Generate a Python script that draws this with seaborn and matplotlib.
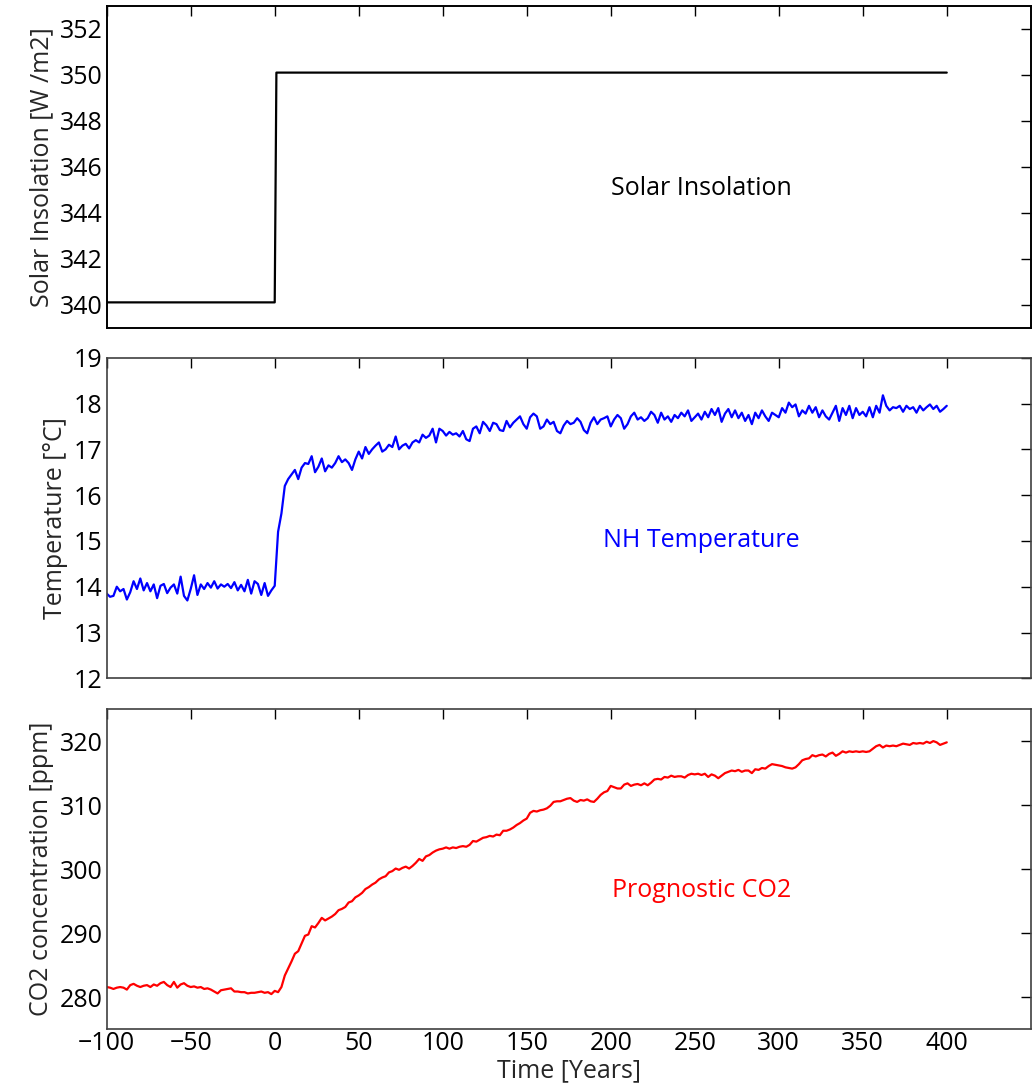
import numpy as np
import pandas as pd
import matplotlib
matplotlib.use("Agg")
import matplotlib.pyplot as plt
import seaborn as sns

# ---- data -------------------------------------------------------------
# Solar forcing: step change at year 0
solar_years = [-100, 0, 1, 400]
solar_values = [340.1, 340.1, 350.1, 350.1]

# Model output sampled every 2 years
years_pre = np.arange(-100, 1, 2)     # -100 ... 0
years_post = np.arange(2, 401, 2)     # 2 ... 400

temp_pre = [13.85, 13.78, 13.80, 14.00, 13.90, 13.95, 13.72, 13.88, 14.12, 13.95,
            14.18, 13.92, 14.08, 13.90, 14.05, 13.75, 14.02, 14.06, 13.86, 13.98,
            14.05, 13.85, 14.22, 13.80, 13.70, 13.95, 14.25, 13.82, 14.05, 13.95,
            14.08, 13.98, 14.12, 13.96, 14.05, 14.00, 14.06, 13.97, 14.10, 13.92,
            14.04, 13.90, 14.15, 13.85, 14.12, 14.06, 13.82, 14.08, 13.80, 13.92,
            14.02]
temp_post = [15.20, 15.60, 16.20, 16.35, 16.45, 16.55, 16.35, 16.60, 16.70, 16.68,
             16.85, 16.50, 16.62, 16.80, 16.52, 16.65, 16.60, 16.70, 16.85, 16.72,
             16.78, 16.70, 16.55, 16.78, 16.95, 16.80, 17.05, 16.90, 17.00, 17.08,
             17.15, 16.95, 17.00, 17.10, 17.05, 17.28, 17.00, 17.08, 17.12, 17.02,
             17.15, 17.20, 17.15, 17.32, 17.25, 17.30, 17.45, 17.15, 17.45, 17.40,
             17.30, 17.38, 17.32, 17.35, 17.28, 17.40, 17.22, 17.18, 17.45, 17.50,
             17.35, 17.60, 17.52, 17.40, 17.58, 17.55, 17.42, 17.40, 17.62, 17.48,
             17.58, 17.65, 17.72, 17.55, 17.45, 17.70, 17.78, 17.72, 17.45, 17.50,
             17.65, 17.55, 17.60, 17.40, 17.35, 17.52, 17.62, 17.55, 17.58, 17.68,
             17.60, 17.42, 17.35, 17.58, 17.70, 17.55, 17.65, 17.68, 17.72, 17.50,
             17.65, 17.75, 17.68, 17.45, 17.55, 17.72, 17.80, 17.65, 17.70, 17.62,
             17.68, 17.82, 17.75, 17.58, 17.80, 17.65, 17.72, 17.60, 17.75, 17.68,
             17.80, 17.72, 17.85, 17.62, 17.70, 17.78, 17.65, 17.82, 17.70, 17.88,
             17.75, 17.90, 17.60, 17.78, 17.88, 17.70, 17.85, 17.68, 17.80, 17.62,
             17.75, 17.55, 17.80, 17.68, 17.85, 17.72, 17.62, 17.80, 17.75, 17.70,
             17.90, 17.80, 18.02, 17.92, 17.98, 17.72, 17.85, 17.78, 17.95, 17.80,
             17.92, 17.70, 17.85, 17.72, 17.65, 17.80, 17.95, 17.62, 17.90, 17.75,
             17.95, 17.68, 17.90, 17.75, 17.82, 17.72, 17.92, 17.70, 17.95, 17.80,
             18.18, 17.95, 17.85, 17.92, 17.90, 17.95, 17.82, 17.95, 17.88, 17.92,
             17.80, 17.95, 17.85, 17.92, 17.98, 17.88, 17.95, 17.82, 17.88, 17.95]

co2_pre = [281.6, 281.5, 281.3, 281.5, 281.6, 281.5, 281.2, 281.9, 282.1, 281.8,
           281.6, 281.8, 281.9, 281.6, 282.0, 281.8, 282.2, 282.4, 281.9, 281.6,
           282.4, 281.5, 282.0, 282.2, 281.8, 281.6, 281.7, 281.5, 281.6, 281.3,
           281.4, 281.2, 280.9, 280.6, 281.1, 281.2, 281.3, 281.4, 280.9, 280.9,
           280.8, 280.8, 280.6, 280.7, 280.7, 280.8, 280.9, 280.7, 280.8, 280.5,
           281.0]
co2_post = [280.8, 281.6, 283.4, 284.5, 285.6, 286.8, 287.2, 288.4, 289.6, 289.8,
            291.1, 290.9, 291.6, 292.4, 292.0, 292.3, 292.6, 293.0, 293.6, 293.8,
            294.1, 294.8, 295.0, 295.6, 295.9, 296.3, 296.9, 297.2, 297.6, 297.9,
            298.4, 298.7, 298.9, 299.5, 299.7, 300.1, 299.9, 300.2, 300.4, 300.1,
            300.5, 301.0, 301.6, 301.3, 302.0, 302.2, 302.6, 302.9, 303.1, 303.2,
            303.4, 303.2, 303.4, 303.3, 303.5, 303.6, 303.5, 303.8, 304.4, 304.3,
            304.6, 304.9, 305.0, 305.2, 305.1, 305.4, 305.3, 306.0, 306.0, 306.2,
            306.5, 306.9, 307.2, 307.6, 307.9, 308.8, 309.1, 309.0, 309.2, 309.3,
            309.5, 309.9, 310.5, 310.6, 310.6, 310.8, 311.0, 311.1, 310.7, 310.5,
            310.8, 310.7, 310.9, 310.6, 310.5, 311.0, 311.6, 312.0, 312.2, 313.0,
            312.8, 312.6, 312.6, 313.2, 313.4, 313.0, 313.2, 313.3, 313.1, 313.4,
            313.1, 313.5, 314.0, 314.1, 314.0, 314.4, 314.3, 314.6, 314.4, 314.5,
            314.5, 314.3, 314.7, 314.9, 314.8, 314.9, 314.7, 314.9, 314.4, 314.8,
            314.6, 314.2, 314.6, 315.0, 315.2, 315.4, 315.3, 315.5, 315.2, 315.4,
            315.4, 315.0, 315.6, 315.5, 315.8, 315.7, 316.1, 316.4, 316.3, 316.2,
            316.1, 315.9, 315.8, 315.7, 315.9, 316.4, 317.0, 317.2, 317.3, 317.8,
            317.6, 317.8, 317.9, 317.6, 318.0, 318.2, 317.7, 318.0, 318.4, 318.2,
            318.4, 318.3, 318.4, 318.3, 318.4, 318.3, 318.4, 318.8, 319.2, 319.4,
            319.0, 319.3, 319.2, 319.3, 319.2, 319.4, 319.6, 319.5, 319.4, 319.7,
            319.6, 319.7, 319.6, 319.9, 319.7, 320.0, 319.8, 319.4, 319.6, 319.8]

x_ticks = [-100, -50, 0, 50, 100, 150, 200, 250, 300, 350, 400]
solar_ticks = [340, 342, 344, 346, 348, 350, 352]
temp_ticks = [12, 13, 14, 15, 16, 17, 18, 19]
co2_ticks = [280, 290, 300, 310, 320]

# ---- frames -------------------------------------------------------------
solar_df = pd.DataFrame({"year": solar_years, "value": solar_values})
temp_df = pd.DataFrame({"year": np.concatenate([years_pre, years_post]),
                        "value": temp_pre + temp_post})
co2_df = pd.DataFrame({"year": np.concatenate([years_pre, years_post]),
                       "value": co2_pre + co2_post})

# ---- style --------------------------------------------------------------
sns.set_style("white")
plt.rcParams["font.family"] = ["Open Sans", "DejaVu Sans"]

FS = 18

fig = plt.figure(figsize=(10.35, 10.86), dpi=100)
left, width = 0.1031, 0.8928
ax1 = fig.add_axes([left, 0.6983, width, 0.2962])
ax2 = fig.add_axes([left, 0.3754, width, 0.2952])
ax3 = fig.add_axes([left, 0.0522, width, 0.2949])

sns.lineplot(data=solar_df, x="year", y="value", ax=ax1, color="black",
             linewidth=1.6, estimator=None, sort=False)
sns.lineplot(data=temp_df, x="year", y="value", ax=ax2, color="#0000ff",
             linewidth=1.6, estimator=None)
sns.lineplot(data=co2_df, x="year", y="value", ax=ax3, color="#ff0000",
             linewidth=1.6, estimator=None)

panels = [
    (ax1, (339, 353), solar_ticks, "Solar Insolation [W /m2]"),
    (ax2, (12, 19), temp_ticks, "Temperature [°C]"),
    (ax3, (275, 325), co2_ticks, "CO2 concentration [ppm]"),
]
for ax, ylim, yt, ylab in panels:
    ax.set_xlim(-100, 450)
    ax.set_ylim(*ylim)
    ax.set_xticks(x_ticks)
    ax.set_yticks(yt)
    ax.set_ylabel(ylab, fontsize=FS, labelpad=4)
    ax.set_xlabel("")
    ax.tick_params(direction="in", length=7, width=1, top=True, right=True,
                   labelsize=FS, colors="black", pad=3)
    for s in ax.spines.values():
        s.set_color("#404040")
        s.set_linewidth(1.2)
    ax.set_facecolor("white")

ax1.tick_params(labelbottom=False)
ax2.tick_params(labelbottom=False)
ax3.tick_params(axis="x", pad=1)
ax3.set_xlabel("Time [Years]", fontsize=FS, labelpad=2)
for s in ax1.spines.values():
    s.set_color("black")
    s.set_linewidth(1.4)

ax1.text(254, 345.07, "Solar Insolation", color="black", fontsize=FS,
         ha="center", va="center")
ax2.text(254, 15.0, "NH Temperature", color="#0000ff", fontsize=FS,
         ha="center", va="center")
ax3.text(254, 296.7, "Prognostic CO2", color="#ff0000", fontsize=FS,
         ha="center", va="center")

fig.savefig("out.png", dpi=100, facecolor="white")
